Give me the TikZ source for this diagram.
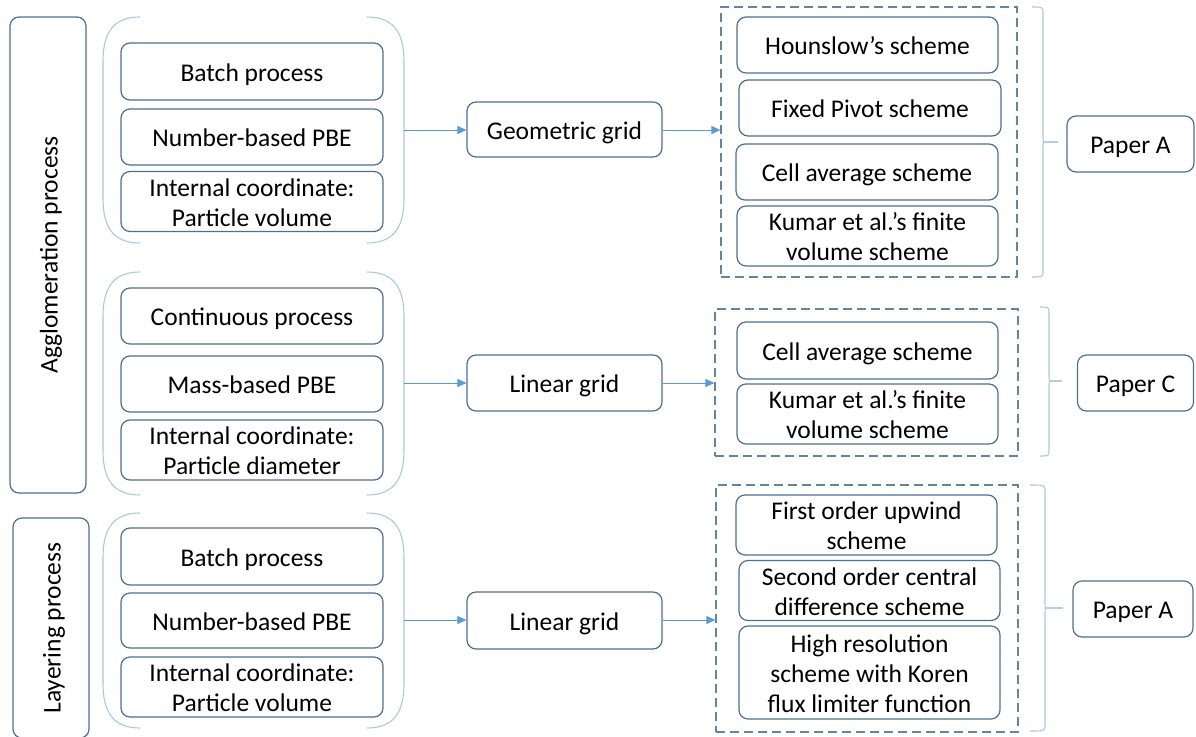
\documentclass[tikz,border=0pt]{standalone}
\usepackage{fontspec}
\setmainfont{Carlito}
\usetikzlibrary{arrows.meta}
\definecolor{boxc}{HTML}{4D6F90}
\definecolor{brc}{HTML}{A9C8E4}
\definecolor{arrc}{HTML}{5B9BD5}
\definecolor{dashc}{HTML}{66849F}
\tikzset{
  box/.style={draw=boxc, rounded corners=9pt, line width=1.2pt, inner sep=0pt,
    font=\fontsize{25.5}{30}\selectfont, text=black},
  dbox/.style={draw=dashc, line width=1.2pt, dash pattern=on 9pt off 5pt, inner sep=0pt},
  brk/.style={draw=brc, line width=1.1pt},
  arr/.style={draw=arrc, line width=1pt, -{Triangle[length=9pt,width=8pt]}},
}
\newcommand{\lowtxt}[1]{\raisebox{-3.5pt}[\height][\depth]{\begin{tabular}{@{}c@{}}#1\end{tabular}}}
\newcommand{\bx}[6]{\node[box, minimum width=#4, minimum height=#5] (#1) at (#2,#3) {\lowtxt{#6}};}
\newcommand{\leftbr}[2]{\draw[brk] (140,#1) .. controls (110,#1) and (103,#1+20) .. (103,#1+45) -- (103,#2-45) .. controls (103,#2-20) and (110,#2) .. (140,#2);
  \draw[brk] (367,#1) .. controls (397,#1) and (404,#1+20) .. (404,#1+45) -- (404,#2-45) .. controls (404,#2-20) and (397,#2) .. (367,#2);}
\newcommand{\pbrace}[6]{\draw[brk] (#1,#3) .. controls (#2,#3) .. (#2,#3+7) -- (#2,#5-5) .. controls (#2,#5) .. (#2+5,#5) -- (#6,#5);
  \draw[brk] (#6,#5) -- (#2+5,#5) .. controls (#2,#5) .. (#2,#5+5) -- (#2,#4-7) .. controls (#2,#4) .. (#1,#4);}
\begin{document}
\begin{tikzpicture}[x=1pt,y=-1pt]
\useasboundingbox (0,0) rectangle (1196,736);
% process boxes
\node[box, rotate=90, minimum width=476, minimum height=76] (agg) at (48,255) {\lowtxt{Agglomeration process}};
\node[box, rotate=90, minimum width=220, minimum height=76] (lay) at (51,628) {\lowtxt{Layering process}};
% brackets
\leftbr{17}{243}
\leftbr{272}{495}
\leftbr{513}{728}
\coordinate (br1) at (404,130);
\coordinate (br2) at (404,383);
\coordinate (br3) at (404,620);
% group boxes
\bx{b1}{252}{71.5}{262}{57}{Batch process}
\bx{b2}{252}{137}{262}{56}{Number-based PBE}
\bx{b3}{252}{201.5}{262}{57}{Internal coordinate:\\Particle volume}
\bx{c1}{252}{316}{262}{56}{Continuous process}
\bx{c2}{252}{384}{262}{56}{Mass-based PBE}
\bx{c3}{252}{450}{262}{56}{Internal coordinate:\\Particle diameter}
\bx{d1}{252}{556.5}{262}{57}{Batch process}
\bx{d2}{252}{620.5}{262}{55}{Number-based PBE}
\bx{d3}{252}{687}{262}{56}{Internal coordinate:\\Particle volume}
% grids
\bx{g1}{564.5}{129.5}{195}{55}{Geometric grid}
\bx{g2}{564.5}{383}{195}{56}{Linear grid}
\bx{g3}{564.5}{620.5}{195}{57}{Linear grid}
% dashed groups
\node[dbox, minimum width=296, minimum height=270] (s1) at (869,142) {};
\node[dbox, minimum width=303, minimum height=147] (s2) at (866.5,382.5) {};
\node[dbox, minimum width=302, minimum height=247] (s3) at (867,608.5) {};
% schemes
\bx{h1}{867.5}{45}{261}{56}{Hounslow’s scheme}
\bx{h2}{870}{108}{262}{56}{Fixed Pivot scheme}
\bx{h3}{867}{172}{262}{56}{Cell average scheme}
\bx{h4}{867.5}{236}{261}{56}{Kumar et al.’s finite\\volume scheme}
\bx{k1}{867.5}{350.5}{261}{57}{Cell average scheme}
\bx{k2}{867.5}{414}{261}{56}{Kumar et al.’s finite\\volume scheme}
\bx{m1}{866.5}{525}{261}{56}{First order upwind\\scheme}
\bx{m2}{869.5}{590.5}{261}{55}{Second order central\\difference scheme}
\bx{m3}{869.5}{672.5}{261}{93}{High resolution\\scheme with Koren\\flux limiter function}
% papers
\bx{p1}{1130.5}{144}{127}{56}{Paper A}
\bx{p2}{1135.5}{383}{116}{56}{Paper C}
\bx{p3}{1133}{609}{120}{56}{Paper A}
% braces
\pbrace{1032}{1043}{7}{277}{142}{1058}
\pbrace{1040}{1049}{307}{456}{381}{1062}
\pbrace{1030}{1045}{485}{731}{608}{1063}
% arrows
\draw[arr] (br1) -- (g1.west |- br1);
\draw[arr] (br2) -- (g2.west |- br2);
\draw[arr] (br3) -- (g3.west |- br3);
\draw[arr] (g1.east |- br1) -- (s1.west |- br1);
\draw[arr] (g2.east |- br2) -- (s2.west |- br2);
\draw[arr] (g3.east |- br3) -- (s3.west |- br3);
\end{tikzpicture}
\end{document}
